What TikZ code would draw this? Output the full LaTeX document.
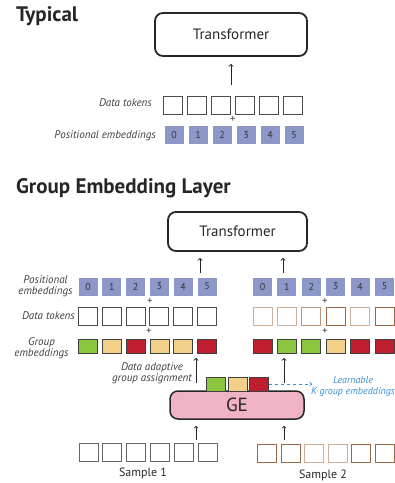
\documentclass[tikz,border=0pt]{standalone}
\usepackage{fontspec}
\setmainfont{PT Sans}
\definecolor{posblue}{HTML}{8E98C8}
\definecolor{grpgreen}{HTML}{8CC63F}
\definecolor{grptan}{HTML}{F2D08A}
\definecolor{grpred}{HTML}{BE1E2D}
\definecolor{gepink}{HTML}{F0B3C3}
\definecolor{lblue}{HTML}{3A8ED6}
\definecolor{tokbrown}{HTML}{9C6644}
\definecolor{toklight}{HTML}{CDB09A}
\tikzset{
  headline/.style={font=\fontsize{21}{24}\selectfont\bfseries, text=black!85, anchor=base west, inner sep=0},
  lbl/.style={font=\fontsize{11}{12}\selectfont\itshape, text=black!75, inner sep=0, align=center},
  tok/.style={draw=black!70, line width=0.9pt, minimum width=19pt, minimum height=18pt, inner sep=0},
  posbox/.style={fill=posblue, minimum width=19pt, minimum height=18pt, inner sep=0, font=\fontsize{10}{11}\selectfont, text=black!80},
  grp/.style={draw=black!75, line width=0.8pt, minimum width=19pt, minimum height=14pt, inner sep=0},
  tf/.style={draw=black!85, line width=1.8pt, rounded corners=8pt, font=\fontsize{15}{17}\selectfont, text=black!85},
  plus/.style={font=\fontsize{11}{11}\selectfont, inner sep=0, text=black!75},
  up/.style={->, line width=0.9pt, black!85},
}
\begin{document}
\begin{tikzpicture}[x=1pt,y=-1pt]
  \useasboundingbox (0,0) rectangle (395,483);
  % typical
  \node[headline] (ttl1) at (16,21) {Typical};
  \node[tf, minimum width=152pt, minimum height=43pt] (tf1) at (231,34.5) {Transformer};
  \path
    (173,105) node[tok] (d0) {}
    (197,105) node[tok] (d1) {}
    (221,105) node[tok] (d2) {}
    (245,105) node[tok] (d3) {}
    (269,105) node[tok] (d4) {}
    (293,105) node[tok] (d5) {};
  \node[plus] (pl1) at (233,119) {+};
  \path
    (174,135) node[posbox] (p0) {0}
    (198,135) node[posbox] (p1) {1}
    (222,135) node[posbox] (p2) {2}
    (246,135) node[posbox] (p3) {3}
    (270,135) node[posbox] (p4) {4}
    (294,135) node[posbox] (p5) {5};
  \node[lbl, anchor=east] (ld) at (152,103) {Data tokens};
  \node[lbl, anchor=east] (lp) at (156,136) {Positional embeddings};
  \coordinate (a1) at (231,85);
  \draw[up, shorten >=7pt] (a1) -- (a1 |- tf1.south);

  % group embedding layer
  \node[headline] (ttl2) at (16,193) {Group Embedding Layer};
  \node[tf, minimum width=139pt, minimum height=39pt] (tf2) at (237.5,231.5) {Transformer};
  \path
    (88,286.5) node[posbox] (lp0) {0}
    (111.8,286.5) node[posbox] (lp1) {1}
    (135.6,286.5) node[posbox] (lp2) {2}
    (159.4,286.5) node[posbox] (lp3) {3}
    (183.2,286.5) node[posbox] (lp4) {4}
    (207,286.5) node[posbox] (lp5) {5}
    (262.5,286.5) node[posbox] (rp0) {0}
    (286.9,286.5) node[posbox] (rp1) {1}
    (311.3,286.5) node[posbox] (rp2) {2}
    (335.7,286.5) node[posbox] (rp3) {3}
    (360.1,286.5) node[posbox] (rp4) {4}
    (384.5,286.5) node[posbox] (rp5) {5};
  \path
    (88,316) node[tok] (ld0) {}
    (111.8,316) node[tok] (ld1) {}
    (135.6,316) node[tok] (ld2) {}
    (159.4,316) node[tok] (ld3) {}
    (183.2,316) node[tok] (ld4) {}
    (207,316) node[tok] (ld5) {}
    (262.5,316) node[tok, draw=toklight] (rd0) {}
    (286.9,316) node[tok, draw=toklight] (rd1) {}
    (311.3,316) node[tok, draw=tokbrown!70] (rd2) {}
    (335.7,316) node[tok, draw=tokbrown] (rd3) {}
    (360.1,316) node[tok, draw=toklight] (rd4) {}
    (384.5,316) node[tok, draw=tokbrown] (rd5) {};
  \path
    (88,346.5) node[grp, fill=grpgreen] (lg0) {}
    (111.8,346.5) node[grp, fill=grptan] (lg1) {}
    (135.6,346.5) node[grp, fill=grpred] (lg2) {}
    (159.4,346.5) node[grp, fill=grptan] (lg3) {}
    (183.2,346.5) node[grp, fill=grptan] (lg4) {}
    (207,346.5) node[grp, fill=grpred] (lg5) {}
    (262.5,346.5) node[grp, fill=grpred] (rg0) {}
    (286.9,346.5) node[grp, fill=grpgreen] (rg1) {}
    (311.3,346.5) node[grp, fill=grpgreen] (rg2) {}
    (335.7,346.5) node[grp, fill=grptan] (rg3) {}
    (360.1,346.5) node[grp, fill=grpred] (rg4) {}
    (384.5,346.5) node[grp, fill=grpred] (rg5) {};
  \node[plus] (pl2) at (150,301) {+};
  \node[plus] (pl3) at (149,331) {+};
  \node[plus] (pl4) at (325,301) {+};
  \node[plus] (pl5) at (325,331) {+};
  \node[lbl] (lpos) at (45.5,286) {Positional\\[-1pt]embeddings};
  \node[lbl, anchor=east] (ltok) at (75,316) {Data tokens};
  \node[lbl] (lgrp) at (41.5,348) {Group\\[-1pt]embeddings};
  \coordinate (a2) at (200,273);
  \coordinate (a3) at (283,273);
  \draw[up, shorten >=6pt] (a2) -- (a2 |- tf2.south);
  \draw[up, shorten >=6pt] (a3) -- (a3 |- tf2.south);

  % group embedding module
  \node[draw=black!85, line width=1.5pt, rounded corners=8pt, fill=gepink, minimum width=134pt,
    minimum height=28pt, font=\fontsize{19}{22}\selectfont, text=black!85] (ge) at (237,405) {GE};
  \path
    (216,384) node[grp, fill=grpgreen] (k0) {}
    (237.5,384) node[grp, fill=grptan] (k1) {}
    (259,384) node[grp, fill=grpred] (k2) {};
  \node[lbl] (lassign) at (152,373) {Data adaptive\\[-1pt]group assignment};
  \node[lbl, font=\fontsize{10}{12}\selectfont\itshape, text=lblue] (lk) at (353,387) {Learnable\\[-1pt]K group embeddings};
  \coordinate (kend) at (312,384);
  \draw[lblue, dashed, ->, line width=0.8pt] (k2) -- (kend);
  \coordinate (g1) at (196,383);
  \coordinate (g2) at (284,383);
  \draw[up, shorten >=4pt] (g1) -- (g1 |- lg5.south);
  \draw[up, shorten >=4pt] (g2) -- (g2 |- rg1.south);

  % samples
  \path
    (88.5,452.5) node[tok, draw=black!60] (s0) {}
    (112.3,452.5) node[tok, draw=black!60] (s1) {}
    (136.1,452.5) node[tok, draw=black!60] (s2) {}
    (159.9,452.5) node[tok, draw=black!60] (s3) {}
    (183.7,452.5) node[tok, draw=black!60] (s4) {}
    (207.5,452.5) node[tok, draw=black!60] (s5) {}
    (267,453.5) node[tok, draw=tokbrown] (t0) {}
    (290.5,453.5) node[tok, draw=tokbrown] (t1) {}
    (314,453.5) node[tok, draw=toklight] (t2) {}
    (337.5,453.5) node[tok, draw=toklight] (t3) {}
    (361,453.5) node[tok, draw=tokbrown] (t4) {}
    (384.5,453.5) node[tok, draw=tokbrown] (t5) {};
  \node[font=\fontsize{12}{14}\selectfont, text=black!85] (smp1) at (143,473) {Sample 1};
  \node[font=\fontsize{12}{14}\selectfont, text=black!85] (smp2) at (323,475.5) {Sample 2};
  \coordinate (b1) at (196,440);
  \coordinate (b2) at (284,440);
  \draw[up, shorten >=6pt] (b1) -- (b1 |- ge.south);
  \draw[up, shorten >=6pt] (b2) -- (b2 |- ge.south);
\end{tikzpicture}
\end{document}
